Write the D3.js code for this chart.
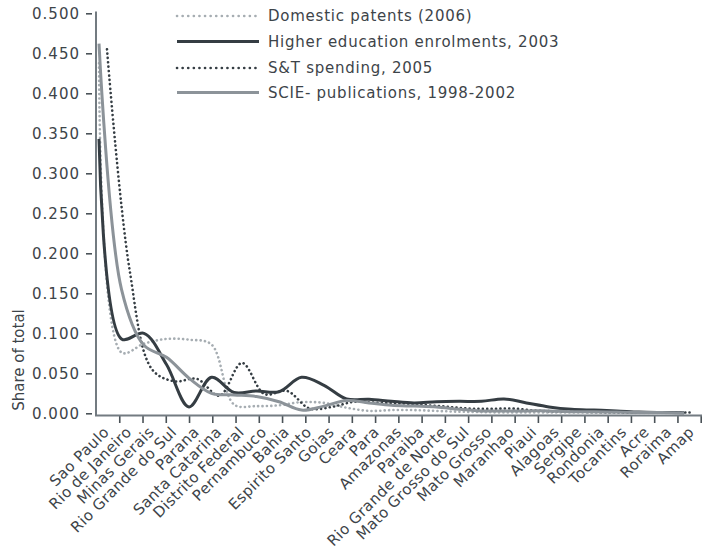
<!DOCTYPE html>
<html><head><meta charset="utf-8">
<script src="https://cdn.jsdelivr.net/npm/d3@7"></script>
<style>
body{margin:0;background:#fff}
text{font-family:"DejaVu Sans",sans-serif;fill:#3d4449}
</style>
</head><body>
<svg id="c" width="702" height="555"></svg>
<script>
const categories = ["Sao Paulo","Rio de Janeiro","Minas Gerais","Rio Grande do Sul","Parana","Santa Catarina","Distrito Federal","Pernambuco","Bahia","Espirito Santo","Goias","Ceara","Para","Amazonas","Paraiba","Rio Grande de Norte","Mato Grosso do Sul","Mato Grosso","Maranhao","Piaui","Alagoas","Sergipe","Rondonia","Tocantins","Acre","Roraima","Amap"];
const patents = [0.4375,0.076,0.087,0.093,0.092,0.086,0.011,0.009,0.010,0.014,0.013,0.007,0.003,0.004,0.004,0.003,0.002,0.0015,0.001,0.001,0.001,0.001,0.0008,0.0006,0.0005,0.0004,0.0003];
const enrolments = [0.343,0.093,0.100,0.061,0.008,0.045,0.026,0.028,0.027,0.045,0.035,0.018,0.0175,0.015,0.013,0.0145,0.015,0.015,0.018,0.013,0.008,0.005,0.004,0.003,0.0015,0.001,0.0008];
const stSpending = [0.455,0.18,0.055,0.040,0.043,0.022,0.063,0.024,0.028,0.006,0.008,0.0145,0.013,0.0125,0.0105,0.0085,0.006,0.0055,0.006,0.0035,0.0025,0.002,0.0015,0.0012,0.001,0.001,0.001];
const publications = [0.462,0.155,0.085,0.070,0.044,0.025,0.023,0.021,0.0145,0.004,0.009,0.016,0.013,0.010,0.009,0.008,0.005,0.003,0.003,0.003,0.003,0.002,0.002,0.0015,0.001,0.001,0.0005];
const seriesNames = ["Domestic patents (2006)","Higher education enrolments, 2003","S&T spending, 2005","SCIE- publications, 1998-2002"];
const yTicks = [0,0.05,0.1,0.15,0.2,0.25,0.3,0.35,0.4,0.45,0.5];
const yTitle = "Share of total";

const series = [
  {name:seriesNames[0], values:patents, color:"#a6adb2", width:2.6, dash:"0.1 4.3", dx:0},
  {name:seriesNames[1], values:enrolments, color:"#353d43", width:3, dash:null, dx:0},
  {name:seriesNames[2], values:stSpending, color:"#353d43", width:2.6, dash:"0.1 4.3", dx:8},
  {name:seriesNames[3], values:publications, color:"#8c9399", width:3, dash:null, dx:0}
];

const svg = d3.select("#c");
const x = d3.scalePoint().domain(categories).range([99,684]);
const y = d3.scaleLinear().domain([0,0.5]).range([413.3,13.3]);
const xt = d3.scaleLinear().domain([0,26]).range([96,700.7]);

// y axis
const ya = svg.append("g").attr("transform","translate(92,0)")
  .call(d3.axisLeft(y).tickValues(yTicks).tickFormat(d3.format(".3f")).tickSize(6).tickPadding(6));
ya.select(".domain").remove();
ya.selectAll("line").attr("stroke","#4a5257").attr("stroke-width",1.6);
ya.selectAll("text").style("font-size","15px").style("letter-spacing","1px").attr("fill","#3d4449");

// x axis ticks
const xa = svg.append("g").attr("transform","translate(0,416)")
  .call(d3.axisBottom(xt).tickValues(d3.range(1,27)).tickSize(7).tickFormat(""));
xa.select(".domain").remove();
xa.selectAll("line").attr("stroke","#4a5257").attr("stroke-width",1.6);

// axis lines
svg.append("line").attr("x1",96).attr("x2",96).attr("y1",11.5).attr("y2",416)
  .attr("stroke","#737b81").attr("stroke-width",2);
svg.append("line").attr("x1",95).attr("x2",702).attr("y1",415.5).attr("y2",415.5)
  .attr("stroke","#737b81").attr("stroke-width",2);

// category labels
svg.append("g").selectAll("text").data(categories).join("text")
  .attr("transform",d=>`translate(${x(d)+11},433) rotate(-45)`)
  .attr("text-anchor","end")
  .style("font-size","15px").style("letter-spacing","0.4px")
  .text(d=>d);

// y title
svg.append("text").attr("transform","translate(24,360) rotate(-90)")
  .attr("text-anchor","middle").style("font-size","15px").text(yTitle);

// lines
const line = d3.line().curve(d3.curveCatmullRom.alpha(0.5));
series.forEach(s=>{
  const pts = categories.map((c,i)=>[x(c)+s.dx, y(s.values[i])]);
  svg.append("path").attr("d",line(pts)).attr("fill","none")
    .attr("stroke",s.color).attr("stroke-width",s.width)
    .attr("stroke-linecap",s.dash?"round":"butt")
    .attr("stroke-linejoin","round")
    .attr("stroke-dasharray",s.dash);
});

// legend
const lg = svg.append("g");
const rows = [16,41.5,68,92.5];
series.forEach((s,i)=>{
  lg.append("line").attr("x1",177).attr("x2",259).attr("y1",rows[i]).attr("y2",rows[i])
    .attr("stroke",s.color).attr("stroke-width",s.width)
    .attr("stroke-linecap",s.dash?"round":"butt")
    .attr("stroke-dasharray",s.dash?"0.1 5.5":null);
  lg.append("text").attr("x",268).attr("y",rows[i]).attr("dy","0.35em")
    .style("font-size","15px").style("letter-spacing","0.75px").text(s.name);
});
</script>
</body></html>
